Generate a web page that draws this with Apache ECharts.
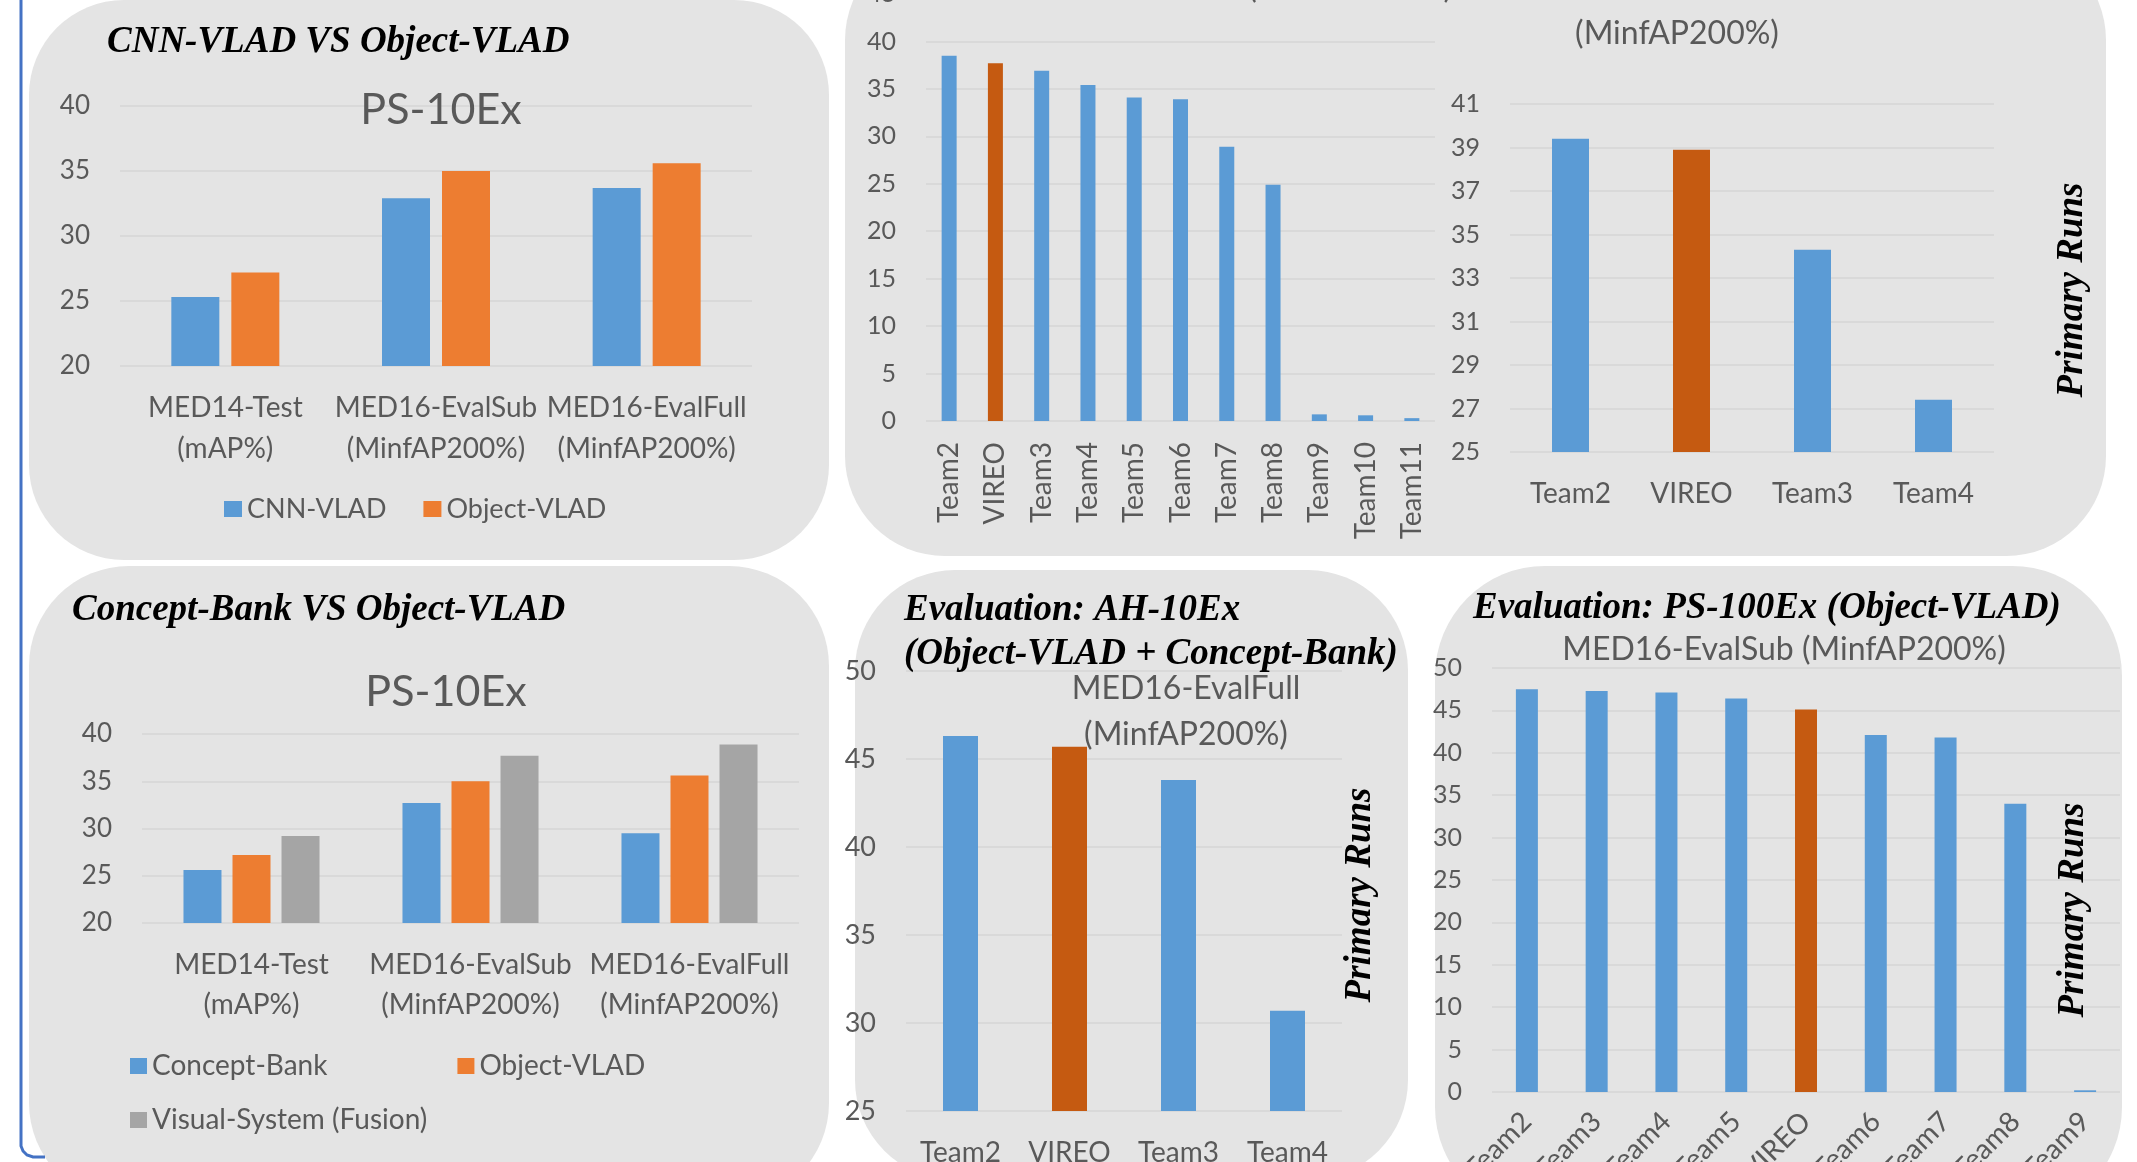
<!DOCTYPE html>
<html>
<head>
<meta charset="utf-8">
<title>Object-VLAD results</title>
<script src="https://cdn.jsdelivr.net/npm/echarts@6/dist/echarts.min.js"></script>
<style>
  html, body { margin: 0; padding: 0; background: #fff; }
  #chart { width: 2137px; height: 1162px; }
</style>
</head>
<body>
<div id="chart"></div>
<script>
// PS-10Ex comparisons (top-left and bottom-left panels)
const psCats = ['MED14-Test\n(mAP%)', 'MED16-EvalSub\n(MinfAP200%)', 'MED16-EvalFull\n(MinfAP200%)'];
const cnnVlad = [25.3, 32.9, 33.7];
const objVlad = [27.2, 35.0, 35.6];
const conceptBank = [25.6, 32.7, 29.5];
const visualFusion = [29.2, 37.7, 38.9];

// primary runs, top row
const subTeams = ['Team2', 'VIREO', 'Team3', 'Team4', 'Team5', 'Team6', 'Team7', 'Team8', 'Team9', 'Team10', 'Team11'];
const subScores = [38.5, 37.7, 36.9, 35.4, 34.1, 33.9, 28.9, 24.9, 0.7, 0.6, 0.3];
const fullTeams = ['Team2', 'VIREO', 'Team3', 'Team4'];
const fullScores = [39.4, 38.9, 34.3, 27.4];

// AH-10Ex and PS-100Ex evaluation (bottom row)
const ahTeams = ['Team2', 'VIREO', 'Team3', 'Team4'];
const ahScores = [46.3, 45.7, 43.8, 30.7];
const ps100Teams = ['Team2', 'Team3', 'Team4', 'Team5', 'VIREO', 'Team6', 'Team7', 'Team8', 'Team9'];
const ps100Scores = [47.5, 47.3, 47.1, 46.4, 45.1, 42.1, 41.8, 34.0, 0.2];

const blue = '#5b9bd5'
const orange = '#ed7d31'
const gray = '#a5a5a5'
const vireo = '#c55a11'
const labelColor = '#595959'
const gridColor = '#d9d9d9'
const panelFill = '#e4e4e4'
const font = 'Lato'
const headFont = 'Liberation Serif'

function valueAxis(gridIndex, min, max, interval, fontSize) {
  return {
    type: 'value', gridIndex, min, max, interval,
    axisLine: { show: false }, axisTick: { show: false },
    splitLine: { lineStyle: { color: gridColor, width: 2 } },
    axisLabel: { color: labelColor, fontFamily: font, fontSize: fontSize, margin: 30 }
  }
}

function catAxis(gridIndex, data, label) {
  return {
    type: 'category', gridIndex, data,
    axisLine: { show: false }, axisTick: { show: false },
    axisLabel: Object.assign({ color: labelColor, fontFamily: font, interval: 0 }, label)
  }
}

function groupBar(name, idx, vals, color, width, gap) {
  return {
    type: 'bar', name, xAxisIndex: idx, yAxisIndex: idx,
    barWidth: width, barGap: gap, data: vals,
    itemStyle: { color: color }
  }
}

function teamBar(name, idx, teams, vals, width) {
  return {
    type: 'bar', name, xAxisIndex: idx, yAxisIndex: idx, barWidth: width,
    data: vals.map((v, i) => teams[i] === 'VIREO' ? { value: v, itemStyle: { color: vireo } } : v),
    itemStyle: { color: blue }
  }
}

function head(text, left, top) {
  return {
    text, left, top, padding: 0,
    textStyle: { fontFamily: headFont, fontStyle: 'italic', fontWeight: 'bold', fontSize: 37, lineHeight: 44, color: '#000' }
  }
}

function sub(text, left, top, size, align) {
  return {
    text, left, top, padding: 0, textAlign: align || 'center',
    textStyle: { fontFamily: font, fontWeight: 'normal', fontSize: size, lineHeight: size + 14, color: labelColor }
  }
}

function primaryRuns(x, y) {
  return {
    type: 'text', z: 10, x, y, rotation: Math.PI / 2,
    style: {
      text: 'Primary Runs', font: 'italic bold 37px "Liberation Serif"', fill: '#000',
      textAlign: 'center', textVerticalAlign: 'middle', align: 'center', verticalAlign: 'middle'
    }
  }
}

function panel(x, y, w, h, r) {
  return { type: 'rect', z: -10, shape: { x, y, width: w, height: h, r }, style: { fill: panelFill } }
}

function grid(left, top, width, height) {
  // keep the grid exactly where it is placed, labels may run off the page
  return { left, top, width, height, outerBoundsMode: 'none', containLabel: false }
}

const chart = echarts.init(document.getElementById('chart'))

chart.setOption({
  animation: false,
  backgroundColor: '#fff',
  graphic: {
    elements: [
      panel(29, 0, 800, 560, 95),
      panel(845, -60, 1261, 616, 100),
      panel(29, 566, 800, 637, 100),
      panel(855, 570, 553, 610, 100),
      panel(1435, 566, 687, 651, 110),
      {
        type: 'polyline', z: -10,
        shape: { points: [[21, -5], [21, 1146], [23, 1151], [27, 1155], [33, 1157], [45, 1157]] },
        style: { stroke: '#4472c4', lineWidth: 3, fill: null }
      },
      primaryRuns(2072, 290),
      primaryRuns(1360, 895),
      primaryRuns(2073, 910)
    ]
  },
  title: [
    head('CNN-VLAD VS Object-VLAD', 107, 20),
    head('Concept-Bank VS Object-VLAD', 72, 588),
    head('Evaluation: AH-10Ex\n(Object-VLAD + Concept-Bank)', 904, 588),
    head('Evaluation: PS-100Ex (Object-VLAD)', 1473, 586),
    sub('PS-10Ex', 441, 82, 43),
    sub('PS-10Ex', 446, 664, 43),
    sub('MED16-EvalSub (MinfAP200%)', 1452, -35, 32, 'right'),
    sub('MED16-EvalFull\n(MinfAP200%)', 1677, -35, 32),
    sub('MED16-EvalFull\n(MinfAP200%)', 1186, 666, 32),
    sub('MED16-EvalSub (MinfAP200%)', 1784, 627, 32)
  ],
  legend: [
    {
      data: ['CNN-VLAD', 'Object-VLAD'], left: 224, top: 494, padding: 0,
      icon: 'rect', itemWidth: 18, itemHeight: 16, itemGap: 37,
      textStyle: { fontFamily: font, fontSize: 27, lineHeight: 30, color: labelColor }
    },
    {
      data: ['Concept-Bank', 'Object-VLAD'], left: 130, top: 1051, padding: 0,
      icon: 'rect', itemWidth: 17, itemHeight: 16, itemGap: 130,
      textStyle: { fontFamily: font, fontSize: 28, lineHeight: 30, color: labelColor }
    },
    {
      data: ['Visual-System (Fusion)'], left: 130, top: 1105, padding: 0,
      icon: 'rect', itemWidth: 17, itemHeight: 16,
      textStyle: { fontFamily: font, fontSize: 28, lineHeight: 30, color: labelColor }
    }
  ],
  grid: [
    grid(120, 106, 632, 260),
    grid(926, -6, 509, 427),
    grid(1510, 104, 484, 348),
    grid(142, 734, 657, 189),
    grid(906, 671, 436, 440),
    grid(1492, 668, 628, 424)
  ],
  xAxis: [
    catAxis(0, psCats, { fontSize: 28, lineHeight: 41, margin: 21 }),
    catAxis(1, subTeams, { fontSize: 28, rotate: 90, margin: 21 }),
    catAxis(2, fullTeams, { fontSize: 28, margin: 28 }),
    catAxis(3, psCats, { fontSize: 28, lineHeight: 40, margin: 22 }),
    catAxis(4, ahTeams, { fontSize: 28, margin: 28 }),
    catAxis(5, ps100Teams, { fontSize: 28, rotate: 45, margin: 25 })
  ],
  yAxis: [
    valueAxis(0, 20, 40, 5, 26),
    valueAxis(1, 0, 45, 5, 25),
    valueAxis(2, 25, 41, 2, 25),
    valueAxis(3, 20, 40, 5, 26),
    valueAxis(4, 25, 50, 5, 27),
    valueAxis(5, 0, 50, 5, 25)
  ],
  series: [
    groupBar('CNN-VLAD', 0, cnnVlad, blue, 48, '25%'),
    groupBar('Object-VLAD', 0, objVlad, orange, 48, '25%'),
    teamBar('MED16-EvalSub', 1, subTeams, subScores, 15),
    teamBar('MED16-EvalFull', 2, fullTeams, fullScores, 37),
    groupBar('Concept-Bank', 3, conceptBank, blue, 38, '29%'),
    groupBar('Object-VLAD', 3, objVlad, orange, 38, '29%'),
    groupBar('Visual-System (Fusion)', 3, visualFusion, gray, 38, '29%'),
    teamBar('AH-10Ex EvalFull', 4, ahTeams, ahScores, 35),
    teamBar('PS-100Ex EvalSub', 5, ps100Teams, ps100Scores, 22)
  ]
})
</script>
</body>
</html>
